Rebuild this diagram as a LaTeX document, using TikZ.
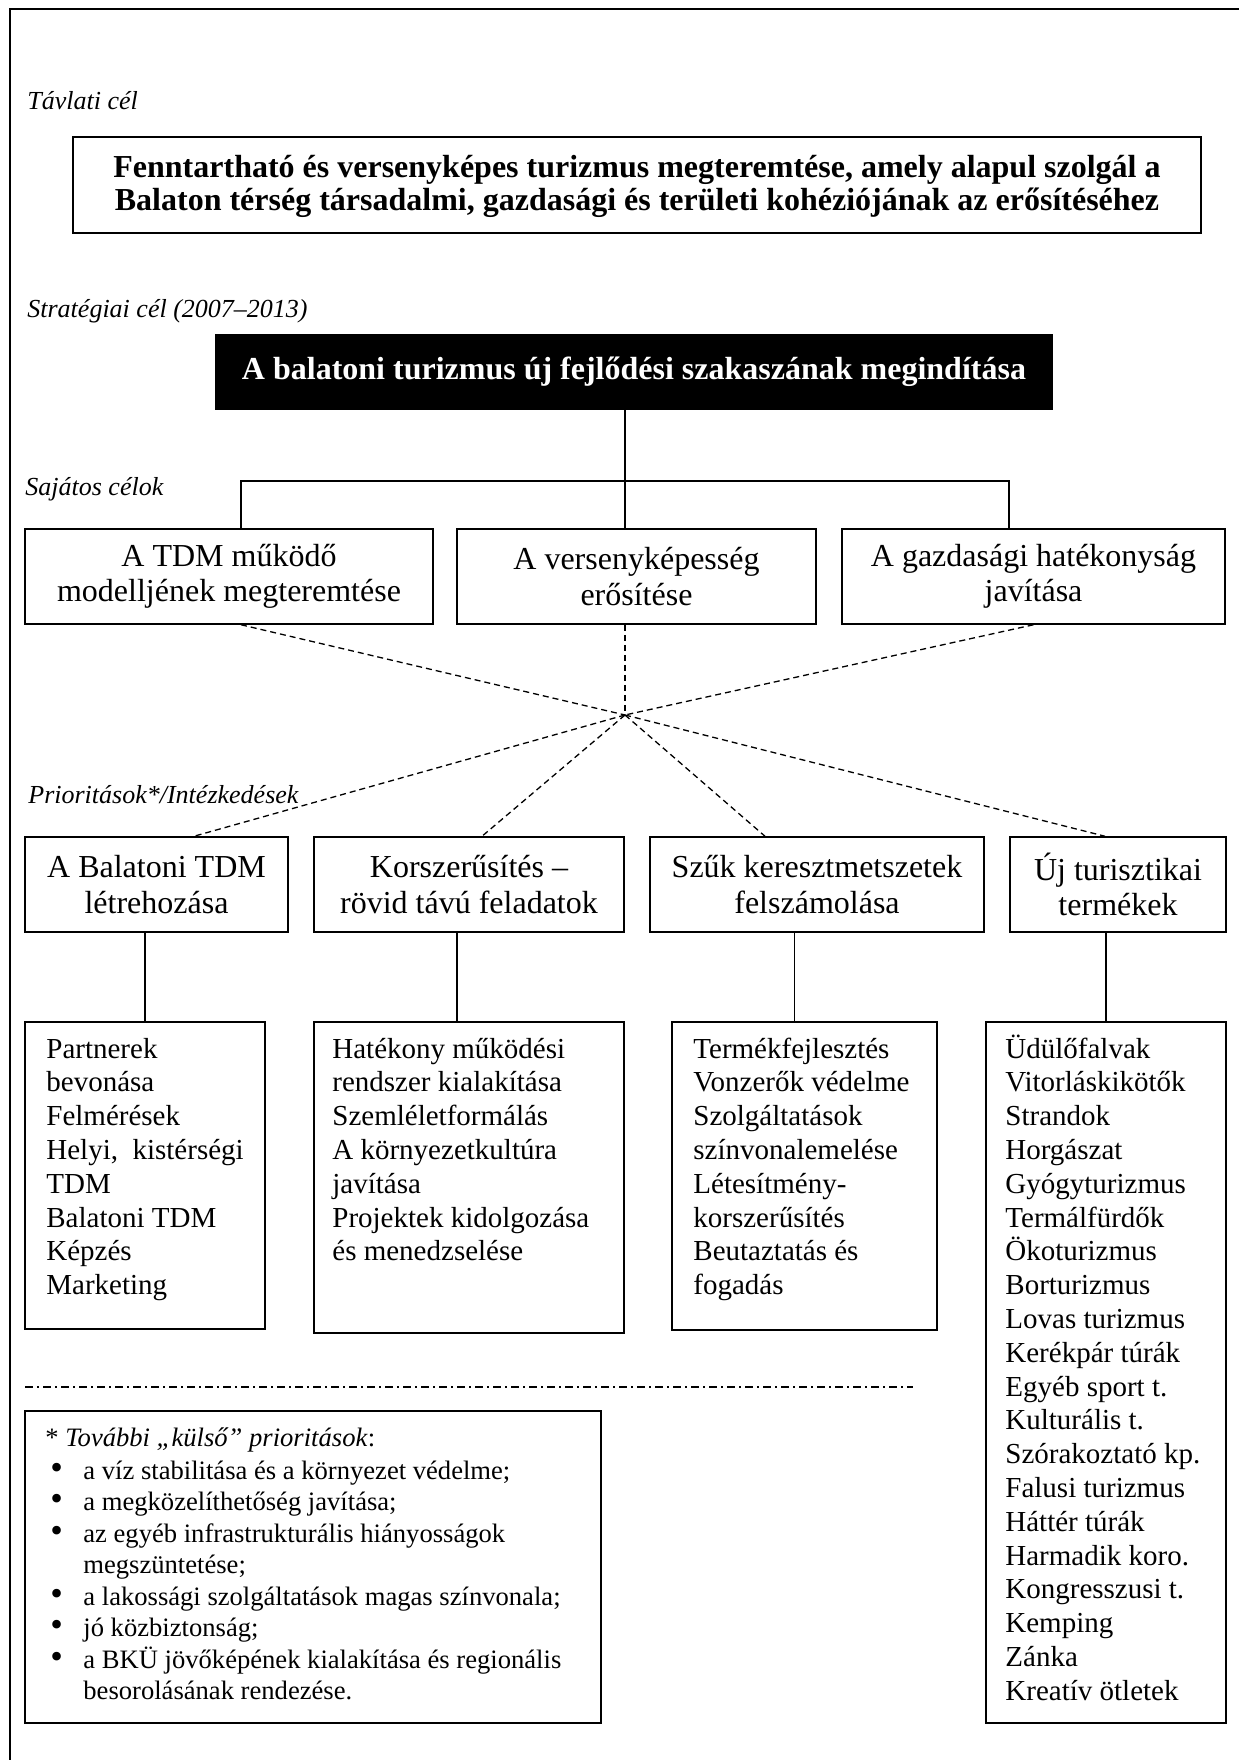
\documentclass[tikz,border=0pt]{standalone}
\usepackage{fontspec}
\setmainfont{Liberation Serif}
\newcommand\goalfont{\fontsize{16}{16.5}\selectfont\bfseries}
\newcommand\cellfont{\fontsize{16}{17.75}\selectfont}
\newcommand\itemfont{\fontsize{14.5}{16.9}\selectfont}
\newcommand\tagfont{\fontsize{13}{15}\selectfont\itshape}
\newcommand\notefont{\fontsize{13.3}{15.75}\selectfont}
\newcommand\dotitem{\hspace*{2.5pt}\makebox[16.5pt][l]{\scalebox{1.35}{•}}}

\begin{document}
\begin{tikzpicture}[x=0.5pt,y=-0.5pt,
    box/.style={draw,line width=0.75pt,inner sep=0pt,align=center,font=\cellfont},
    tag/.style={anchor=base west,inner sep=0pt,font=\tagfont},
    items/.style={anchor=base west,inner sep=0pt,align=left,font=\itemfont},
    link/.style={line width=0.65pt},
    dashlink/.style={line width=0.65pt,dash pattern=on 3pt off 2pt}]
\useasboundingbox (0,0) rectangle (1239,1760);
\draw[line width=1pt] (10,1760) |- (1239,9);                 % page frame

% level labels
\node[tag] (lab1) at (27,110) {Távlati cél};
\node[tag] (lab2) at (27,317) {Stratégiai cél (2007–2013)};
\node[tag] (lab3) at (25,495) {Sajátos célok};
\node[tag] (lab4) at (28,803) {Prioritások*/Intézkedések};

% long-term and strategic goal
\node[box,font=\goalfont,minimum width=564pt,minimum height=48pt] (vision) at (637,185)
  {\rule{0pt}{13pt}Fenntartható és versenyképes turizmus megteremtése, amely alapul szolgál a\\
   Balaton térség társadalmi, gazdasági és területi kohéziójának az erősítéséhez};
\node[box,fill=black,text=white,font=\goalfont,minimum width=418pt,minimum height=37pt]
  (strat) at (634,372) {A balatoni turizmus új fejlődési szakaszának megindítása};

% specific goals
\node[box,minimum width=204pt,minimum height=47.5pt] (s1) at (229,576.5)
  {A TDM működő\\modelljének megteremtése};
\node[box,minimum width=179.5pt,minimum height=47.5pt] (s2) at (636.5,576.5)
  {A versenyképesség\\erősítése};
\node[box,minimum width=191.5pt,minimum height=47.5pt] (s3) at (1033.5,576.5)
  {A gazdasági hatékonyság\\javítása};

\coordinate (hub) at (625,481);
\coordinate (cross) at (625,715);
\draw[link] ([xshift=-4.5pt]strat.south) -- ([xshift=-5.75pt]s2.north);
\draw[link] ([xshift=6pt]s1.north) |- (hub) -| ([xshift=-12.25pt]s3.north);

% priorities
\node[box,minimum width=131.5pt,minimum height=47.5pt] (pA) at (156.5,884.5)
  {A Balatoni TDM\\létrehozása};
\node[box,minimum width=155pt,minimum height=47.5pt] (pB) at (469,884.5)
  {Korszerűsítés –\\rövid távú feladatok};
\node[box,minimum width=167pt,minimum height=47.5pt] (pC) at (817,884.5)
  {Szűk keresztmetszetek\\felszámolása};
\node[box,minimum width=108pt,minimum height=47.5pt] (pD) at (1118,884.5)
  {Új turisztikai\\termékek};

% dashed fan through one point
\draw[dashlink] ([xshift=6pt]s1.south) -- (cross);
\draw[dashlink] ([xshift=-5.75pt]s2.south) -- (cross);
\draw[dashlink] (s3.south) -- (cross);
\draw[dashlink] (cross) -- ([xshift=18.75pt]pA.north);
\draw[dashlink] (cross) -- ([xshift=6.5pt]pB.north);
\draw[dashlink] (cross) -- ([xshift=-26pt]pC.north);
\draw[dashlink] (cross) -- ([xshift=-6.5pt]pD.north);

% measures
\node[box,minimum width=120pt,minimum height=153.5pt] (mA) at (145,1175.5) {};
\node[box,minimum width=155pt,minimum height=155.5pt] (mB) at (469,1177.5) {};
\node[box,minimum width=132.5pt,minimum height=154pt] (mC) at (804.5,1176) {};
\node[box,minimum width=120pt,minimum height=350.5pt] (mD) at (1106,1372.5) {};
\draw[link] (mA.north) -- ([xshift=-5.75pt]pA.south);
\draw[link] ([xshift=-6pt]mB.north) -- ([xshift=-6pt]pB.south);
\draw[link] ([xshift=-5pt]mC.north) -- ([xshift=-11.25pt]pC.south);
\draw[link] (mD.north) -- ([xshift=-6pt]pD.south);

% list texts, placed at the baseline of their last line
\node[items] (tA) at (46,1294.6) {Partnerek\\bevonása\\Felmérések\\Helyi,\ \ kistérségi\\TDM\\
  Balatoni TDM\\Képzés\\Marketing};
\node[items] (tB) at (332,1260.8) {Hatékony működési\\rendszer kialakítása\\Szemléletformálás\\
  A környezetkultúra\\javítása\\Projektek kidolgozása\\és menedzselése};
\node[items] (tC) at (693,1294.6) {Termékfejlesztés\\Vonzerők védelme\\Szolgáltatások\\
  színvonalemelése\\Létesítmény-\\korszerűsítés\\Beutaztatás és\\fogadás};
\node[items] (tD) at (1005,1700.2) {Üdülőfalvak\\Vitorláskikötők\\Strandok\\Horgászat\\
  Gyógyturizmus\\Termálfürdők\\Ökoturizmus\\Borturizmus\\Lovas turizmus\\Kerékpár túrák\\
  Egyéb sport t.\\Kulturális t.\\Szórakoztató kp.\\Falusi turizmus\\Háttér túrák\\
  Harmadik koro.\\Kongresszusi t.\\Kemping\\Zánka\\Kreatív ötletek};

% external priorities
\draw[line width=0.65pt,dash pattern=on 4pt off 2pt on 1pt off 2pt] (25,1387) -- (913,1387);
\node[box,minimum width=288pt,minimum height=156pt] (note) at (313,1567) {};
\node[anchor=base west,inner sep=0pt,align=left,font=\notefont] (notes) at (45,1699.5)
  {* \textit{További „külső” prioritások}:\\[0.75pt]
   \dotitem a víz stabilitása és a környezet védelme;\\
   \dotitem a megközelíthetőség javítása;\\
   \dotitem az egyéb infrastrukturális hiányosságok\\
   \hspace*{19pt}megszüntetése;\\
   \dotitem a lakossági szolgáltatások magas színvonala;\\
   \dotitem jó közbiztonság;\\
   \dotitem a BKÜ jövőképének kialakítása és regionális\\
   \hspace*{19pt}besorolásának rendezése.};
\end{tikzpicture}
\end{document}
